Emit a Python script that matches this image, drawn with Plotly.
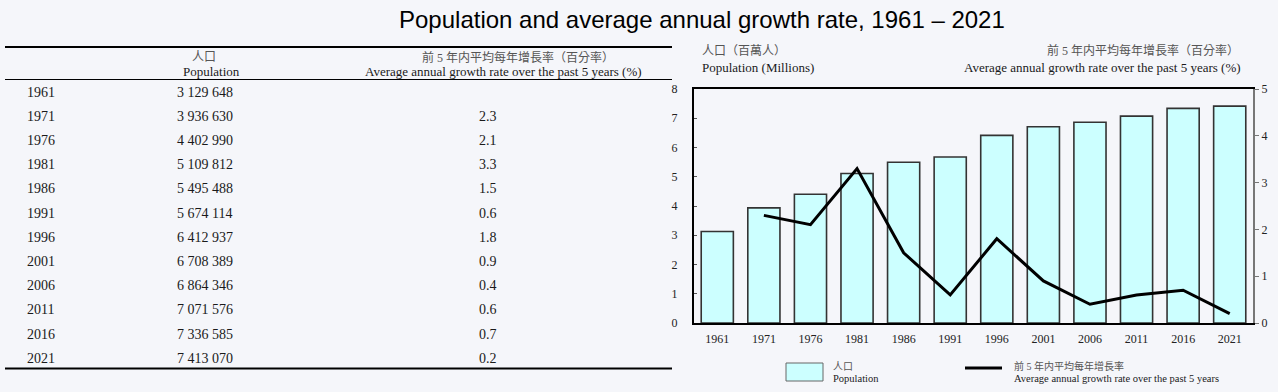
import plotly.graph_objects as go

years = ["1961", "1971", "1976", "1981", "1986", "1991", "1996", "2001", "2006", "2011", "2016", "2021"]
population = [3129648, 3936630, 4402990, 5109812, 5495488, 5674114, 6412937, 6708389, 6864346, 7071576, 7336585, 7413070]
growth_rate = [None, 2.3, 2.1, 3.3, 1.5, 0.6, 1.8, 0.9, 0.4, 0.6, 0.7, 0.2]

title_text = "Population and average annual growth rate, 1961 – 2021"
pop_header_zh = "人口"
pop_header_en = "Population"
rate_header_zh = "前 5 年内平均每年增長率（百分率）"
rate_header_en = "Average annual growth rate over the past 5 years (%)"
y1_title_zh = "人口（百萬人）"
y1_title_en = "Population (Millions)"
legend_rate_en = "Average annual growth rate over the past 5 years"
legend_rate_zh = "前 5 年内平均每年增長率"

W, H = 1278, 392
SERIF = "Liberation Serif, Noto Sans CJK TC, serif"
BG = "#F5F6FA"
ZH_COLOR = "#555555"
EN_COLOR = "#1a1a1a"


def px(x):
    return x / W


def py(y):
    return 1 - y / H


def fmt_pop(v):
    return f"{v:,}".replace(",", " ")


pop_millions = [v / 1e6 for v in population]

fig = go.Figure()
fig.add_trace(go.Bar(
    x=years, y=pop_millions, name="Population",
    marker=dict(color="#CCFFFF", line=dict(color="#333333", width=1.6)),
    width=0.69, showlegend=False, hoverinfo="skip",
))
fig.add_trace(go.Scatter(
    x=years, y=growth_rate, yaxis="y2", mode="lines",
    line=dict(color="#000000", width=3), showlegend=False,
    connectgaps=False, hoverinfo="skip",
))

annotations = []
shapes = []


def note(text, x, y, anchor, size, color, family=SERIF):
    annotations.append(dict(text=text, x=px(x), y=py(y), xref="paper", yref="paper",
                            showarrow=False, xanchor=anchor, yanchor="middle",
                            font=dict(family=family, size=size, color=color)))


# title
note(title_text, 702, 20, "center", 24, "#000000", family="Liberation Sans, Arial")

# table rules
for yy, w in [(47, 2), (79.5, 1), (368.5, 2)]:
    shapes.append(dict(type="line", xref="paper", yref="paper", x0=px(5), x1=px(672), y0=py(yy), y1=py(yy),
                       line=dict(color="#000000", width=w)))

# table headers
note(pop_header_zh, 204, 57, "center", 12, ZH_COLOR)
note(pop_header_en, 211, 71, "center", 13, EN_COLOR)
note(rate_header_zh, 518, 57, "center", 12, ZH_COLOR)
note(rate_header_en, 504, 71, "center", 13, EN_COLOR)

# table rows
for i, (yr, p, r) in enumerate(zip(years, population, growth_rate)):
    yy = 92 + i * 24.2
    note(yr, 25, yy, "left", 14, EN_COLOR)
    note(fmt_pop(p), 175, yy, "left", 14, EN_COLOR)
    if r is not None:
        note(f"{r:.1f}", 488, yy, "center", 14, EN_COLOR)

# chart axis titles
note(y1_title_zh, 700, 51, "left", 12, ZH_COLOR)
note(y1_title_en, 700, 67, "left", 13, EN_COLOR)
note(rate_header_zh, 1241, 51, "right", 12, ZH_COLOR)
note(rate_header_en, 1243, 67, "right", 13, EN_COLOR)

# legend
shapes.append(dict(type="rect", xref="paper", yref="paper", x0=px(786), x1=px(823), y0=py(363), y1=py(381),
                   fillcolor="#CCFFFF", line=dict(color="#666666", width=1)))
shapes.append(dict(type="line", xref="paper", yref="paper", x0=px(965), x1=px(1002), y0=py(368), y1=py(368),
                   line=dict(color="#000000", width=3)))
note("人口", 831, 366, "left", 10, ZH_COLOR)
note("Population", 831, 378, "left", 10.5, EN_COLOR)
note(legend_rate_zh, 1012, 366, "left", 10, ZH_COLOR)
note(legend_rate_en, 1012, 378, "left", 10.5, EN_COLOR)

tick_font = dict(family=SERIF, size=12, color="#222222")
fig.update_layout(
    width=W, height=H, autosize=False,
    margin=dict(l=0, r=0, t=0, b=0, pad=0, autoexpand=False),
    paper_bgcolor=BG, plot_bgcolor=BG,
    xaxis=dict(domain=[px(694), px(1253)], type="category", showline=True, linecolor="#000000",
               linewidth=2, mirror=True, ticks="", showgrid=False, tickfont=tick_font,
               ticklabelstandoff=4, zeroline=False, automargin=False),
    yaxis=dict(domain=[py(323), py(89)], range=[0, 8], dtick=1, showline=True, linecolor="#000000",
               linewidth=2, ticks="inside", ticklen=3, tickcolor="#555555", showgrid=False,
               tickfont=tick_font, zeroline=False, ticklabelstandoff=12, automargin=False),
    yaxis2=dict(overlaying="y", side="right", range=[0, 5], dtick=1, showline=True,
                linecolor="#777777", linewidth=2, ticks="outside", ticklen=4, tickcolor="#777777",
                showgrid=False, tickfont=tick_font, zeroline=False, anchor="x", automargin=False),
    annotations=annotations,
    shapes=shapes,
)

post = ("document.documentElement.style.overflow='hidden';"
        "document.body.style.overflow='hidden';"
        "document.body.style.margin='0';document.body.style.padding='0';"
        "document.body.style.background='%s';"
        "var gd=document.getElementById('{plot_id}');"
        "gd.style.position='absolute';gd.style.left='0px';gd.style.top='0px';" % BG)
fig.write_html("out.html", config={"displayModeBar": False}, post_script=post)
